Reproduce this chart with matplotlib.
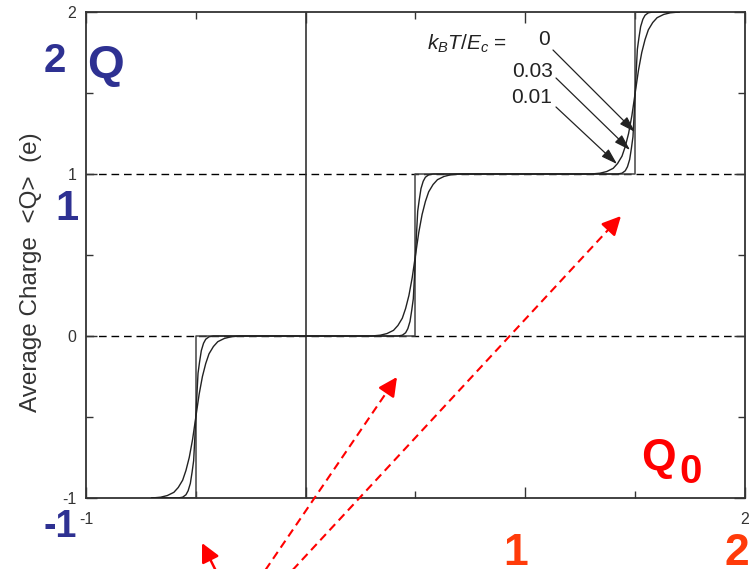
import numpy as np
import matplotlib
matplotlib.use("Agg")
import matplotlib.pyplot as plt
from matplotlib.lines import Line2D

plt.rcParams['font.family'] = ['Liberation Sans', 'DejaVu Sans']
plt.rcParams['mathtext.fontset'] = 'custom'
plt.rcParams['mathtext.rm'] = 'Liberation Sans'
plt.rcParams['mathtext.it'] = 'Liberation Sans:italic'

# ---- data ----
charge_levels = [-1, 0, 1, 2]          # plateaus of <Q>
step_centers = [-0.5, 0.5, 1.5]        # Q0 where <Q> jumps
q0_range = [-0.7, 1.7]                 # x extent of the curves
temperature_labels = ['0', '0.03', '0.01']

# shape of one thermally smeared step (offset from step centre, fraction of jump)
broad_dx = [-0.20, -0.16, -0.13, -0.10, -0.08, -0.06, -0.045, -0.03, -0.015, 0.0,
            0.015, 0.03, 0.045, 0.06, 0.08, 0.10, 0.13, 0.16, 0.20]
broad_fr = [0.0, 0.005, 0.015, 0.035, 0.065, 0.11, 0.17, 0.25, 0.36, 0.5,
            0.64, 0.75, 0.83, 0.89, 0.935, 0.965, 0.985, 0.995, 1.0]
narrow_dx = [-0.08, -0.06, -0.045, -0.035, -0.025, -0.017, -0.01, -0.005, 0.0,
             0.005, 0.01, 0.017, 0.025, 0.035, 0.045, 0.06, 0.08]
narrow_fr = [0.0, 0.005, 0.02, 0.045, 0.09, 0.16, 0.23, 0.36, 0.5,
             0.64, 0.77, 0.84, 0.91, 0.955, 0.98, 0.995, 1.0]

x_major = [-1, 0, 1, 2]
x_labels = ['-1', '', '', '2']
y_major = [-1, 0, 1, 2]
y_labels = ['-1', '0', '1', '2']

W, H = 755, 569


def fxy(x, y):
    """pixel position (from top-left) -> figure fraction"""
    return (x / W, 1 - y / H)


def smeared_curve(dx, fr):
    xs = [q0_range[0]]
    ys = [charge_levels[0]]
    for c, low in zip(step_centers, charge_levels[:-1]):
        xs += [c + d for d in dx]
        ys += [low + f for f in fr]
    xs.append(q0_range[1])
    ys.append(charge_levels[-1])
    return xs, ys


def sharp_curve():
    xs = [q0_range[0]]
    ys = [charge_levels[0]]
    for c, low, high in zip(step_centers, charge_levels[:-1], charge_levels[1:]):
        xs += [c, c]
        ys += [low, high]
    xs.append(q0_range[1])
    ys.append(charge_levels[-1])
    return xs, ys


fig = plt.figure(figsize=(7.55, 5.69), dpi=100)
ax = fig.add_axes([86 / W, 1 - 498 / H, (745 - 86) / W, (498 - 12) / H])

ax.axhline(0, color='k', lw=1.0, dashes=(5.5, 3.5), zorder=1)
ax.axhline(1, color='k', lw=1.0, dashes=(5.5, 3.5), zorder=1)
ax.axvline(0, color='#333333', lw=1.2, zorder=1)

x0, y0 = sharp_curve()
ax.plot(x0, y0, color='#444444', lw=1.1, zorder=2)
xb, yb = smeared_curve(broad_dx, broad_fr)
ax.plot(xb, yb, color='#222222', lw=1.0, zorder=3)
xn, yn = smeared_curve(narrow_dx, narrow_fr)
ax.plot(xn, yn, color='#222222', lw=1.0, zorder=3)

ax.set_xlim(-1, 2)
ax.set_ylim(-1, 2)
ax.set_xticks(x_major)
ax.set_xticklabels(x_labels)
ax.set_yticks(y_major)
ax.set_yticklabels(y_labels)
ax.set_xticks([-0.5, 0.5, 1.5], minor=True)
ax.set_yticks([-0.5, 0.5, 1.5], minor=True)
ax.tick_params(which='both', direction='in', top=True, right=True,
               colors='#333333', labelsize=11.5, width=1.0)
ax.tick_params(which='major', length=8)
ax.tick_params(which='minor', length=5)
ax.tick_params(axis='x', pad=10)
ax.tick_params(axis='y', pad=7)
for s in ax.spines.values():
    s.set_color('#333333')
    s.set_linewidth(1.3)

# y axis title placed where the picture has it
fig.text(*fxy(31, 272), 'Average Charge  <Q>  (e)', fontsize=17.5, color='#333333',
         rotation=90, ha='center', va='center')

# legend-style annotation with arrows
fig.text(*fxy(427, 50), r'$k_BT/E_c$ =', fontsize=15, color='#222222',
         ha='left', va='baseline')
label_pos = [(550, 45), (553, 77), (552, 103)]
arrow_start = [(553, 50), (556, 78), (556, 107)]
arrow_tip = [(635, 132), (630, 150), (617, 164)]
for lab, (lx, ly), s, t in zip(temperature_labels, label_pos, arrow_start, arrow_tip):
    fig.text(*fxy(lx, ly), lab, fontsize=15, color='#222222', ha='right', va='baseline')
    ax.annotate('', xy=fxy(*t), xycoords='figure fraction',
                xytext=fxy(*s), textcoords='figure fraction',
                arrowprops=dict(arrowstyle='-|>,head_length=0.7,head_width=0.22',
                                mutation_scale=14, color='#222222', lw=0.9,
                                shrinkA=0, shrinkB=0),
                annotation_clip=False)

# slide overlay text
blue = '#2E3192'
fig.text(*fxy(44, 72), '2', fontsize=29, fontweight='bold', color=blue, va='baseline')
fig.text(*fxy(87, 78), 'Q', fontsize=34, fontweight='bold', color=blue, va='baseline')
fig.text(*fxy(79, 220), '1', fontsize=30, fontweight='bold', color=blue,
         ha='right', va='baseline')
fig.text(*fxy(77, 537), '-1', fontsize=27, fontweight='bold', color=blue,
         ha='right', va='baseline')

fig.text(*fxy(641, 470), 'Q', fontsize=32, fontweight='bold', color='#FF0000', va='baseline')
fig.text(*fxy(679, 483), '0', fontsize=29, fontweight='bold', color='#FF0000', va='baseline')

orange = '#FF3B0A'
fig.text(*fxy(528, 565), '1', fontsize=32, fontweight='bold', color=orange,
         ha='right', va='baseline')
fig.text(*fxy(749, 565), '2', fontsize=32, fontweight='bold', color=orange,
         ha='right', va='baseline')


# red arrows from the slide
def red_arrow(start, tip, dashed=True):
    sx, sy = start
    tx, ty = tip
    d = np.hypot(tx - sx, ty - sy)
    ux, uy = (tx - sx) / d, (ty - sy) / d
    if dashed:
        line = Line2D([fxy(sx, sy)[0], fxy(tx - 8 * ux, ty - 8 * uy)[0]],
                      [fxy(sx, sy)[1], fxy(tx - 8 * ux, ty - 8 * uy)[1]],
                      transform=fig.transFigure, color='#FF0000', lw=1.5,
                      dashes=(4, 2.5))
        fig.add_artist(line)
        back = 16
    else:
        back = d
    ax.annotate('', xy=fxy(tx, ty), xycoords='figure fraction',
                xytext=fxy(tx - back * ux, ty - back * uy), textcoords='figure fraction',
                arrowprops=dict(arrowstyle='-|>,head_length=0.8,head_width=0.4',
                                mutation_scale=14, color='#FF0000', lw=1.8,
                                shrinkA=0, shrinkB=0),
                annotation_clip=False)


red_arrow((262, 575), (397, 377))
red_arrow((288, 575), (621, 216))
red_arrow((218, 575), (202, 543), dashed=False)

fig.savefig('out.png', dpi=100)
